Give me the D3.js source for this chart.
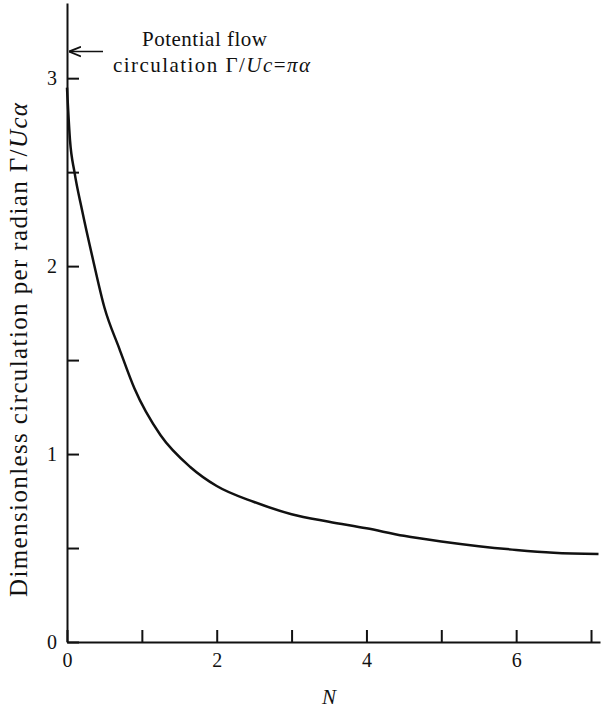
<!DOCTYPE html>
<html>
<head>
<meta charset="utf-8">
<script src="https://cdn.jsdelivr.net/npm/d3@7"></script>
<style>
  body { margin: 0; background: #fff; }
  svg text { font-family: "Liberation Serif", "DejaVu Serif", serif; fill: #111; }
</style>
</head>
<body>
<div id="chart"></div>
<script>
const width = 604;
const height = 708;

// N values and circulation per radian
const nValues = [0, 0.04, 0.1, 0.2, 0.35, 0.5, 0.7, 0.9, 1.25, 1.65, 2.0, 2.5, 3.0, 3.5, 4.0, 4.5, 5.0, 5.5, 6.0, 6.5, 7.1];
const gammaValues = [2.95, 2.67, 2.5, 2.3, 2.03, 1.78, 1.56, 1.35, 1.1, 0.93, 0.83, 0.745, 0.68, 0.64, 0.605, 0.565, 0.535, 0.51, 0.49, 0.475, 0.468];

const xTicks = [0, 1, 2, 3, 4, 5, 6, 7];
const xLabels = [0, 2, 4, 6];
const yTicks = [0, 0.5, 1, 1.5, 2, 2.5, 3];
const yLabels = [0, 1, 2, 3];

const data = nValues.map((n, i) => ({ n: n, g: gammaValues[i] }));

const svg = d3.select('#chart')
    .append('svg')
    .attr('width', width)
    .attr('height', height)
    .attr('viewBox', [0, 0, width, height]);

const x = d3.scaleLinear()
    .domain([0, 7.12])
    .range([67, 600]);

const y = d3.scaleLinear()
    .domain([0, 3.4])
    .range([642, 3]);

// spread a text out to the width it takes in the printed figure
function fitWidth(sel, target) {
    const len = sel.node().getComputedTextLength();
    const n = sel.text().length;
    sel.attr('letter-spacing', Math.max(0, (target - len) / (n - 1)));
}

// y axis, ticks pointing into the plot
svg.append('g')
    .attr('transform', `translate(${x(0)},0)`)
    .call(d3.axisLeft(y)
        .tickValues(yTicks)
        .tickSizeInner(-12)
        .tickSizeOuter(0)
        .tickPadding(10)
        .tickFormat(d => yLabels.includes(d) ? d : ''));

// x axis
svg.append('g')
    .attr('transform', `translate(0,${y(0)})`)
    .call(d3.axisBottom(x)
        .tickValues(xTicks)
        .tickSizeInner(-12)
        .tickSizeOuter(0)
        .tickPadding(11)
        .tickFormat(d => xLabels.includes(d) ? d : ''));

svg.selectAll('.domain, .tick line')
    .attr('stroke', '#111')
    .attr('stroke-width', 2);

svg.selectAll('.tick text')
    .attr('font-size', 20)
    .attr('font-family', '"Liberation Serif", serif')
    .attr('fill', '#111');

// curve
const line = d3.line()
    .x(d => x(d.n))
    .y(d => y(d.g))
    .curve(d3.curveMonotoneX);

svg.append('path')
    .datum(data)
    .attr('fill', 'none')
    .attr('stroke', '#111')
    .attr('stroke-width', 2.5)
    .attr('d', line);

// axis titles
const yTitle = svg.append('text')
    .attr('transform', 'translate(27,597) rotate(-90)')
    .attr('font-size', 25)
    .html('Dimensionless circulation per radian Γ/<tspan font-style="italic">Ucα</tspan>');
fitWidth(yTitle, 494);

svg.append('text')
    .attr('x', 329)
    .attr('y', 704)
    .attr('text-anchor', 'middle')
    .attr('font-size', 21)
    .attr('font-style', 'italic')
    .text('N');

// potential flow annotation
svg.append('defs').append('marker')
    .attr('id', 'arrow')
    .attr('viewBox', '0 0 10 10')
    .attr('refX', 10)
    .attr('refY', 5)
    .attr('markerWidth', 8)
    .attr('markerHeight', 8)
    .attr('orient', 'auto')
    .append('path')
    .attr('d', 'M0,1 L10,5 L0,9')
    .attr('fill', 'none')
    .attr('stroke', '#111')
    .attr('stroke-width', 1.5);

svg.append('line')
    .attr('x1', x(0) + 36)
    .attr('x2', x(0) + 2)
    .attr('y1', y(Math.PI))
    .attr('y2', y(Math.PI))
    .attr('stroke', '#111')
    .attr('stroke-width', 1.5)
    .attr('marker-end', 'url(#arrow)');

const note1 = svg.append('text')
    .attr('x', 142)
    .attr('y', 46)
    .attr('font-size', 21)
    .text('Potential flow');
fitWidth(note1, 125);

const note2 = svg.append('text')
    .attr('x', 113)
    .attr('y', 72)
    .attr('font-size', 21)
    .html('circulation Γ/<tspan font-style="italic">Uc</tspan>=<tspan font-style="italic">πα</tspan>');
fitWidth(note2, 197);
</script>
</body>
</html>
